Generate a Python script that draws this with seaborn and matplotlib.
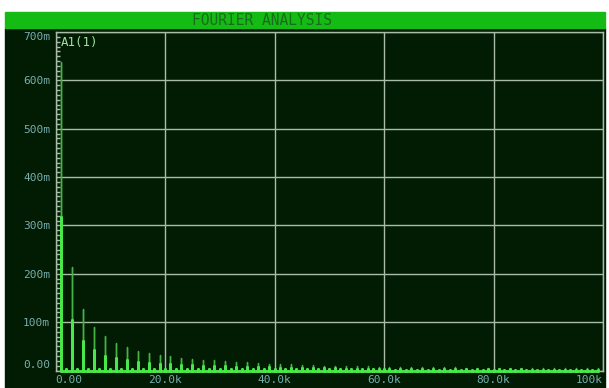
import numpy as np
import pandas as pd
import seaborn as sns
import matplotlib.pyplot as plt
from matplotlib.patches import Rectangle
from matplotlib.ticker import MultipleLocator

# spectrum (frequency in kHz, magnitude in milli-units)
odd_khz = [1, 3, 5, 7, 9, 11, 13, 15, 17, 19, 21, 23, 25, 27, 29, 31, 33, 35, 37, 39,
           41, 43, 45, 47, 49, 51, 53, 55, 57, 59, 61, 63, 65, 67, 69, 71, 73, 75, 77, 79,
           81, 83, 85, 87, 89, 91, 93, 95, 97, 99]
odd_peak = [638, 213, 127, 90, 71, 57, 48, 41, 36, 32, 29, 26, 24, 22, 21, 19, 18, 17, 15, 14,
            13, 13, 12, 11, 10, 10, 9, 9, 9, 8, 8, 8, 7, 7, 7, 7, 7, 6, 6, 6,
            6, 6, 6, 5, 5, 5, 5, 5, 5, 5]
odd_core = [318, 104, 61, 43, 31, 25, 21, 18, 16, 14, 13, 12, 11, 10, 9, 9, 8, 8, 7, 7,
            6, 6, 6, 5, 5, 5, 4, 4, 4, 4, 4, 4, 3, 3, 3, 3, 3, 3, 3, 3,
            3, 3, 3, 2, 2, 2, 2, 2, 2, 2]
even_khz = [2, 4, 6, 8, 10, 12, 14, 16, 18, 20, 22, 24, 26, 28, 30, 32, 34, 36, 38, 40,
            42, 44, 46, 48, 50, 52, 54, 56, 58, 60, 62, 64, 66, 68, 70, 72, 74, 76, 78, 80,
            82, 84, 86, 88, 90, 92, 94, 96, 98]
even_peak = [4, 4, 3, 3, 3, 3, 3, 3, 3, 3, 3, 3, 3, 3, 3, 3, 3, 3, 3, 3,
             3, 3, 3, 3, 3, 3, 3, 3, 3, 3, 2, 2, 2, 2, 2, 2, 2, 2, 2, 2,
             2, 2, 2, 2, 2, 2, 2, 2, 2]

x_ticks = [0, 20, 40, 60, 80, 100]
x_labels = ['0.00', '20.0k', '40.0k', '60.0k', '80.0k', '100k']
y_ticks = [0, 100, 200, 300, 400, 500, 600, 700]
y_labels = ['0.00', '100m', '200m', '300m', '400m', '500m', '600m', '700m']
title = 'FOURIER ANALYSIS'
trace_name = 'A1(1)'

dark = '#021c03'
bar_green = '#14bb14'
grid_c = '#a8bca8'
label_c = '#78aeae'
dim_c = '#45b445'
bright_c = '#48e848'


def spike_table(freqs, mags):
    # each harmonic becomes a vertical spike on a zero baseline
    f = np.repeat(freqs, 3)
    m = np.column_stack([np.zeros(len(mags)), mags, np.zeros(len(mags))]).ravel()
    d = pd.DataFrame({'freq': f, 'mag': m})
    return d.sort_values('freq', kind='stable')


full = spike_table(odd_khz + even_khz, odd_peak + even_peak)
core = spike_table(odd_khz + even_khz, odd_core + even_peak)

sns.set_style('dark', rc={'axes.facecolor': dark, 'figure.facecolor': 'white'})
plt.rcParams['font.family'] = ['DejaVu Sans Mono', 'DejaVu Sans']

W, H = 609, 388
fig = plt.figure(figsize=(W / 100, H / 100), dpi=100)
fig.patches.append(Rectangle((5 / W, 0), 600 / W, (H - 28) / H,
                             transform=fig.transFigure, color=dark, zorder=-2))
fig.patches.append(Rectangle((5 / W, 1 - 28 / H), 600 / W, 16 / H,
                             transform=fig.transFigure, color=bar_green, zorder=-2))
fig.text(262 / W, 1 - 20.5 / H, title, ha='center', va='center',
         color='#1c6a1c', fontsize=10.5, zorder=5)

ax = fig.add_axes([55.5 / W, (H - 370.5) / H, 547.5 / W, 338.5 / H])
ax.set_zorder(2)
ax.set_facecolor(dark)

sns.lineplot(data=full, x='freq', y='mag', sort=False, estimator=None,
             color=dim_c, lw=1, ax=ax, zorder=3)
sns.lineplot(data=core, x='freq', y='mag', sort=False, estimator=None,
             color=bright_c, lw=2, ax=ax, zorder=4, clip_on=False)

ax.set_xlim(0, 100)
ax.set_ylim(0, 700)
ax.set_xticks(x_ticks)
ax.set_xticklabels(x_labels)
ax.set_yticks(y_ticks)
ax.set_yticklabels(y_labels)
ax.set_xlabel('')
ax.set_ylabel('')
ax.grid(True, color=grid_c, lw=1)
ax.set_axisbelow(True)
for s in ax.spines.values():
    s.set_visible(True)
    s.set_color(grid_c)
    s.set_linewidth(1)

ax.tick_params(axis='both', which='major', length=0, labelsize=8,
               labelcolor=label_c)
ax.tick_params(axis='x', pad=3)
ax.tick_params(axis='y', pad=4)
ax.yaxis.set_minor_locator(MultipleLocator(10))
ax.tick_params(axis='y', which='minor', direction='in', length=3,
               width=1, color=grid_c, left=True)

xl = ax.get_xticklabels()
xl[0].set_ha('left')
xl[-1].set_ha('right')
yl = ax.get_yticklabels()
yl[0].set_va('bottom')
yl[-1].set_va('top')

ax.text(0.01, 0.988, trace_name, transform=ax.transAxes, ha='left', va='top',
        color='#9ee09e', fontsize=9)

fig.savefig('out.png', dpi=100)
